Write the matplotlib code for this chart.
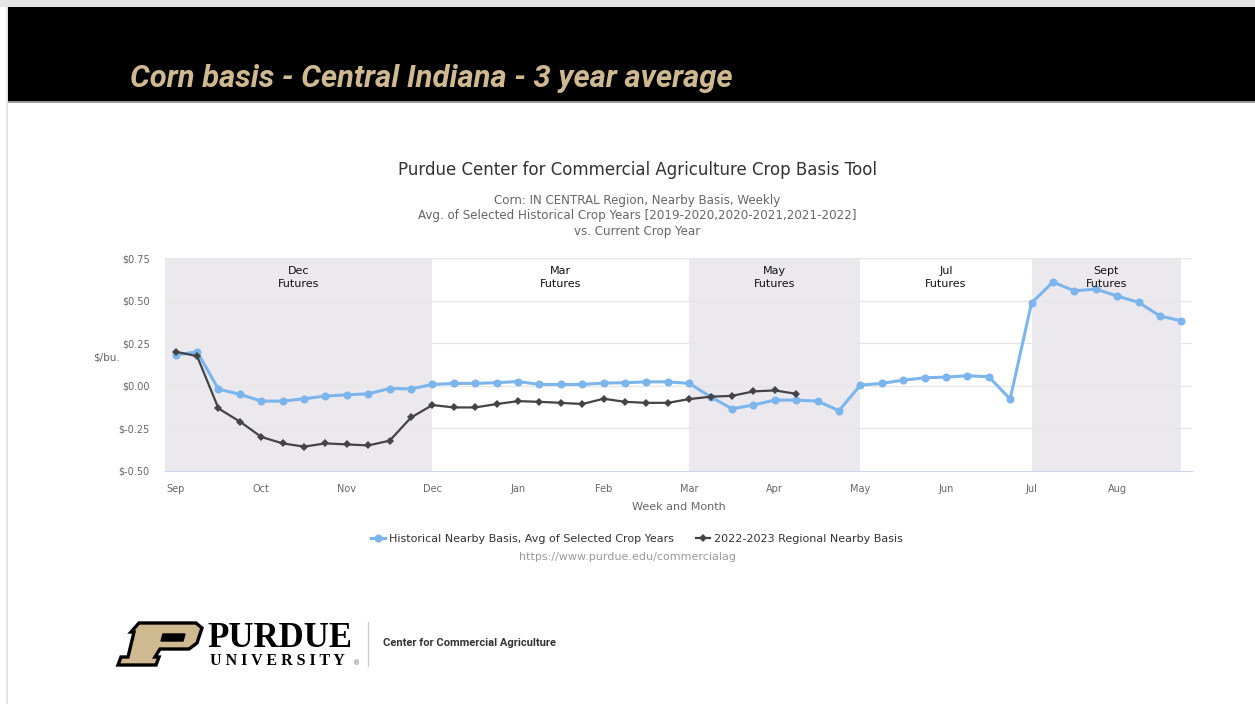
import matplotlib
matplotlib.use('Agg')
import matplotlib.pyplot as plt
from matplotlib.patches import Rectangle, Polygon
from matplotlib.lines import Line2D

W, H = 1255, 704

# weekly basis, 4 weeks per month starting in September
month_labels = ['Sep', 'Oct', 'Nov', 'Dec', 'Jan', 'Feb', 'Mar', 'Apr', 'May', 'Jun', 'Jul', 'Aug']

historical_basis = [0.18, 0.20, -0.02, -0.05, -0.09, -0.09, -0.076, -0.06, -0.053, -0.047, -0.016, -0.018,
                    0.008, 0.014, 0.014, 0.018, 0.025, 0.008, 0.008, 0.008, 0.016, 0.018, 0.023, 0.023,
                    0.014, -0.064, -0.135, -0.113, -0.084, -0.084, -0.09, -0.146, 0.004, 0.014, 0.033, 0.047,
                    0.051, 0.059, 0.053, -0.078, 0.486, 0.609, 0.557, 0.568, 0.527, 0.49, 0.41, 0.381]

current_basis = [0.20, 0.174, -0.133, -0.21, -0.30, -0.338, -0.357, -0.338, -0.344, -0.35, -0.322, -0.186,
                 -0.113, -0.127, -0.127, -0.107, -0.09, -0.094, -0.10, -0.107, -0.076, -0.094, -0.10, -0.10,
                 -0.078, -0.064, -0.059, -0.033, -0.027, -0.047]

# futures contract bands (start week, end week, label, shaded)
futures_names = ['Dec\nFutures', 'Mar\nFutures', 'May\nFutures', 'Jul\nFutures', 'Sept\nFutures']
futures_start = [-0.5, 12, 24, 32, 40]
futures_end = [12, 24, 32, 40, 47]
futures_shaded = [True, False, True, False, True]

y_ticks = [-0.50, -0.25, 0.0, 0.25, 0.50, 0.75]

gold = '#CFB991'
blue = '#7cb5ec'
dark = '#434348'

fig = plt.figure(figsize=(W / 100, H / 100), dpi=100)

# background layer in pixel coordinates
bg = fig.add_axes([0, 0, 1, 1], zorder=0)
bg.set_xlim(0, W)
bg.set_ylim(H, 0)
bg.axis('off')
bg.add_patch(Rectangle((0, 0), W, 7, color='#e4e4e4', lw=0))
bg.add_patch(Rectangle((6, 0), 2, H, color='#e4e4e4', lw=0))
bg.add_patch(Rectangle((8, 7), W - 8, 94, color='black', lw=0))
bg.add_patch(Rectangle((8, 101), W - 8, 1.5, color='#9a9a9a', lw=0))
bg.text(130, 87, 'Corn basis - Central Indiana - 3 year average', color=gold, fontsize=22.3,
        family=['Roboto', 'DejaVu Sans'], weight='bold', style='italic',
        ha='left', va='baseline')

# chart titles
bg.text(637, 170, 'Purdue Center for Commercial Agriculture Crop Basis Tool', color='#333333',
        fontsize=12, ha='center', va='center')
bg.text(637, 216, 'Corn: IN CENTRAL Region, Nearby Basis, Weekly\n'
        'Avg. of Selected Historical Crop Years [2019-2020,2020-2021,2021-2022]\n'
        'vs. Current Crop Year', color='#666666', fontsize=8.6, ha='center', va='center',
        linespacing=1.29)
bg.text(107, 358, '$/bu.', color='#666666', fontsize=7.5, ha='center', va='center')
bg.text(679, 507, 'Week and Month', color='#666666', fontsize=8, ha='center', va='center')
bg.text(628, 557, 'https://www.purdue.edu/commercialag', color='#999999', fontsize=8,
        ha='center', va='center')

# Purdue logo
p_outer = [(139, 623), (196, 623), (202, 628), (197, 643), (189, 649), (160, 649), (155, 657),
           (159, 657), (156, 665), (118, 665), (121, 657), (128, 657), (134, 632), (131, 632)]
bg.add_patch(Polygon(p_outer, closed=True, facecolor=gold, edgecolor='black', lw=2.4, joinstyle='miter'))
bg.add_patch(Polygon([(163, 634), (185, 634), (183, 641), (161, 641)], closed=True,
                     facecolor='black', edgecolor='black', lw=1))
bg.text(207, 647, 'PURDUE', fontsize=25, family=['Liberation Serif', 'DejaVu Serif'], weight='bold',
        color='black', ha='left', va='baseline')
bg.text(210, 665, 'U N I V E R S I T Y', fontsize=11.5, family=['Liberation Serif', 'DejaVu Serif'],
        weight='bold', color='black', ha='left', va='baseline')
bg.text(353, 665, '®', fontsize=5, color='#666666', ha='left', va='baseline')
bg.plot([368, 368], [622, 666], color='#cccccc', lw=1)
bg.text(383, 643, 'Center for Commercial Agriculture', fontsize=8.05,
        family=['Roboto', 'DejaVu Sans'], weight='bold', color='#333333',
        ha='left', va='center')

# main chart
ax = fig.add_axes([165 / W, 1 - 471 / H, (1192 - 165) / W, (471 - 258) / H], zorder=1)
weeks = list(range(len(historical_basis)))
cur_weeks = list(range(len(current_basis)))

for start, end, name, shaded in zip(futures_start, futures_end, futures_names, futures_shaded):
    if shaded:
        ax.axvspan(start, end, color='#ebe9ed', lw=0, zorder=0)
    ax.text((start + end) / 2, 0.637, name, ha='center', va='center', fontsize=8,
            color='#111111', linespacing=1.4, zorder=5)

for y in y_ticks[1:]:
    ax.axhline(y, color='#e6e6e6', lw=1, zorder=1)

ax.plot(weeks, historical_basis, color=blue, lw=2.2, marker='o', markersize=5.8,
        markeredgewidth=0, zorder=3)
ax.plot(cur_weeks, current_basis, color=dark, lw=1.6, marker='D', markersize=4,
        markeredgewidth=0, zorder=4)

ax.set_xlim(-0.5, 47.5)
ax.set_ylim(-0.5, 0.75)
ax.set_yticks(y_ticks)
ax.set_yticklabels([f'${v:.2f}' for v in y_ticks])
ax.set_xticks(range(0, 48, 4))
ax.set_xticklabels(month_labels)
ax.tick_params(axis='both', length=0, labelsize=7, colors='#666666')
ax.tick_params(axis='y', pad=11)
ax.tick_params(axis='x', pad=9)
for side in ['left', 'right', 'top']:
    ax.spines[side].set_visible(False)
ax.spines['bottom'].set_color('#ccd6eb')

handles = [Line2D([], [], color=blue, lw=2.2, marker='o', markersize=5.8, markeredgewidth=0),
           Line2D([], [], color=dark, lw=1.6, marker='D', markersize=4, markeredgewidth=0)]
labels = ['Historical Nearby Basis, Avg of Selected Crop Years', '2022-2023 Regional Nearby Basis']
fig.legend(handles, labels, loc='center', bbox_to_anchor=(637 / W, 1 - 539 / H), ncol=2,
           frameon=False, fontsize=8, handlelength=1.2, handletextpad=0.4, columnspacing=2.0,
           labelcolor='#333333')

plt.savefig('out.png', dpi=100)
